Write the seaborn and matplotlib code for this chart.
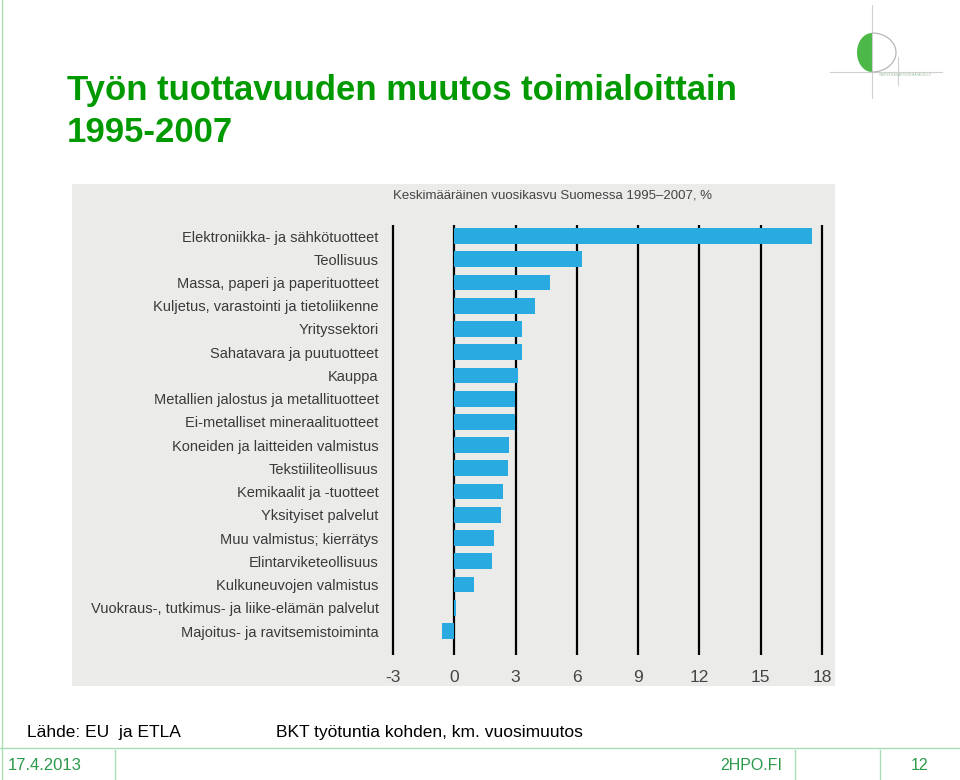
import matplotlib
matplotlib.use("Agg")
import matplotlib.pyplot as plt
from matplotlib.patches import Rectangle, Polygon
from matplotlib.lines import Line2D
import numpy as np
import seaborn as sns
import pandas as pd

categories = [
    "Elektroniikka- ja sähkötuotteet",
    "Teollisuus",
    "Massa, paperi ja paperituotteet",
    "Kuljetus, varastointi ja tietoliikenne",
    "Yrityssektori",
    "Sahatavara ja puutuotteet",
    "Kauppa",
    "Metallien jalostus ja metallituotteet",
    "Ei-metalliset mineraalituotteet",
    "Koneiden ja laitteiden valmistus",
    "Tekstiiliteollisuus",
    "Kemikaalit ja -tuotteet",
    "Yksityiset palvelut",
    "Muu valmistus; kierrätys",
    "Elintarviketeollisuus",
    "Kulkuneuvojen valmistus",
    "Vuokraus-, tutkimus- ja liike-elämän palvelut",
    "Majoitus- ja ravitsemistoiminta",
]
values = [17.5, 6.25, 4.7, 3.95, 3.33, 3.33, 3.1, 2.95, 2.95, 2.7, 2.62,
          2.39, 2.28, 1.95, 1.87, 0.95, 0.1, -0.62]
xticks = [-3, 0, 3, 6, 9, 12, 15, 18]

title = "Työn tuottavuuden muutos toimialoittain\n1995-2007"
subtitle = "Keskimääräinen vuosikasvu Suomessa 1995–2007, %"
source = "Lähde: EU  ja ETLA"
note = "BKT työtuntia kohden, km. vuosimuutos"
date = "17.4.2013"
site = "2HPO.FI"
page = "12"

W, H = 960, 780
fig = plt.figure(figsize=(9.6, 7.8), dpi=100)
fig.patch.set_facecolor("white")

def fx(px):
    return px / W

def fy(py):
    return 1 - py / H

narrow = ["Liberation Sans Narrow", "Liberation Sans", "DejaVu Sans"]
arial = ["Liberation Sans", "DejaVu Sans"]

# gray chart panel
fig.patches.append(Rectangle((fx(72), fy(686)), fx(835) - fx(72), fy(184) - fy(686),
                             transform=fig.transFigure, facecolor="#ebebea",
                             edgecolor="none", zorder=-5))

# axes geometry
unit = 20.4
x_left = 393 - 0.5 * unit
x_right = 822 + 0.5 * unit
y_top, y_bot = 225, 655
ax = fig.add_axes([fx(x_left), fy(y_bot), fx(x_right) - fx(x_left), fy(y_top) - fy(y_bot)])
ax.set_facecolor("none")
ax.set_zorder(2)

df = pd.DataFrame({"cat": categories, "val": values})
sns.barplot(data=df, x="val", y="cat", orient="h", color="#29abe2",
            saturation=1, width=0.68, ax=ax, zorder=3)

for t in xticks:
    ax.axvline(t, color="black", lw=1.6, zorder=2)

ax.set_xlim(-3.5, 18.5)
spacing = (631 - 236) / 17
ax.set_ylim(17 + (655 - 631) / spacing, -(236 - 225) / spacing)
ax.set_xticks(xticks)
ax.set_xticklabels([str(t) for t in xticks], family=narrow, fontsize=12.5, color="#444444")
ax.tick_params(axis="x", length=0, pad=11)
ax.tick_params(axis="y", length=0, pad=3)
for lab in ax.get_yticklabels():
    lab.set_fontfamily(narrow)
    lab.set_fontsize(10.5)
    lab.set_color("#3a3a3a")
ax.set_xlabel("")
ax.set_ylabel("")
for s in ax.spines.values():
    s.set_visible(False)

fig.text(fx(393), fy(195), subtitle, family=narrow, fontsize=9.5, color="#444444",
         ha="left", va="center")

# title
fig.text(fx(67), fy(74), title, family=arial, fontweight="bold", fontsize=25,
         color="#009a00", ha="left", va="top", linespacing=1.33)

# source and note
fig.text(fx(27), fy(733), source, family=narrow, fontsize=12.5, color="black",
         ha="left", va="center")
fig.text(fx(276), fy(733), note, family=narrow, fontsize=12.5, color="black",
         ha="left", va="center")

# footer lines
green_line = "#a9dcb4"
fig.lines.append(Line2D([fx(0), fx(960)], [fy(748), fy(748)], transform=fig.transFigure,
                        color=green_line, lw=1))
fig.lines.append(Line2D([fx(2), fx(2)], [fy(0), fy(780)], transform=fig.transFigure,
                        color=green_line, lw=1))
for xv in [115, 795, 880]:
    fig.lines.append(Line2D([fx(xv), fx(xv)], [fy(750), fy(780)], transform=fig.transFigure,
                            color=green_line, lw=1))
fig.text(fx(8), fy(766), date, family=narrow, fontsize=12, color="#2a9a4a",
         ha="left", va="center")
fig.text(fx(751), fy(766), site, family=narrow, fontsize=11.5, color="#2a9a4a",
         ha="center", va="center")
fig.text(fx(920), fy(766), page, family=narrow, fontsize=11.5, color="#2a9a4a",
         ha="center", va="center")

# logo (decoration)
gray = "#d0d0d0"
fig.lines.append(Line2D([fx(872), fx(872)], [fy(5), fy(98)], transform=fig.transFigure,
                        color=gray, lw=0.8))
fig.lines.append(Line2D([fx(830), fx(942)], [fy(72), fy(72)], transform=fig.transFigure,
                        color=gray, lw=0.8))
fig.lines.append(Line2D([fx(898), fx(898)], [fy(57), fy(85)], transform=fig.transFigure,
                        color=gray, lw=0.8))
cx, cy = 872, 52.5
th = np.linspace(np.pi / 2, 3 * np.pi / 2, 60)
left_pts = [(fx(cx + 15 * np.cos(a)), fy(cy - 19.5 * np.sin(a))) for a in th]
fig.patches.append(Polygon(left_pts, closed=True, transform=fig.transFigure,
                           facecolor="#4cb848", edgecolor="none"))
th2 = np.linspace(np.pi / 2, -np.pi / 2, 60)
rx = [fx(cx + 24 * np.cos(a)) for a in th2]
ry = [fy(cy - 19.5 * np.sin(a)) for a in th2]
fig.lines.append(Line2D(rx, ry, transform=fig.transFigure, color="#b8b8b8", lw=0.9))
fig.text(fx(905), fy(75), "VARTEEN ASIANTUNTIJAAPALVELUT", fontsize=2.2,
         color="#9bbf9b", ha="center", va="center", family=arial)

fig.savefig("out.png", dpi=100, facecolor="white")
